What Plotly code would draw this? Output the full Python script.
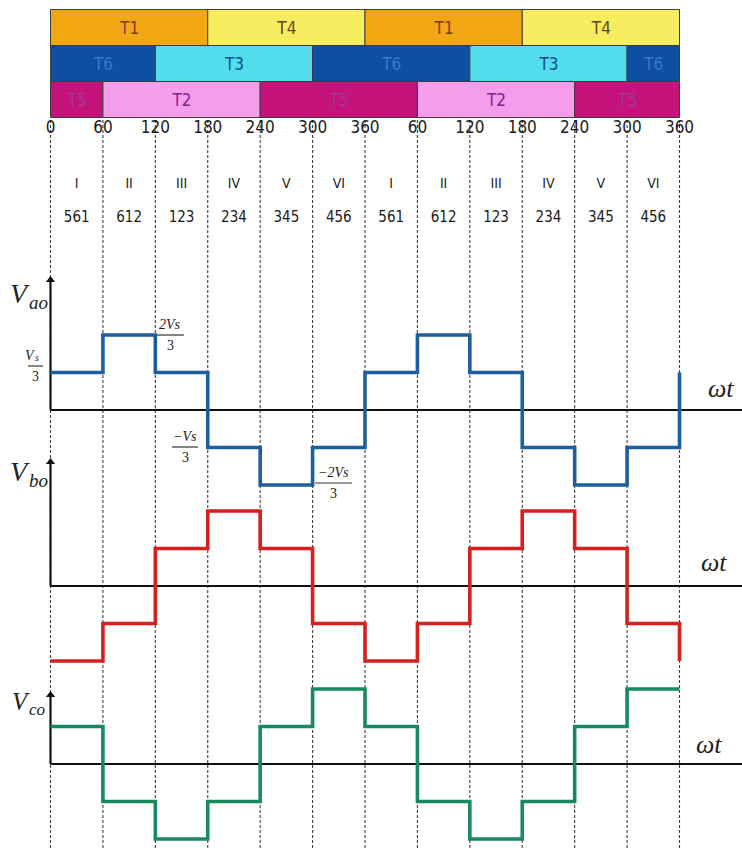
import plotly.graph_objects as go

W, H = 742, 848

# ---------------- data ----------------
angles = [0, 60, 120, 180, 240, 300, 360, 420, 480, 540, 600, 660, 720]
tick_labels = ["0", "60", "120", "180", "240", "300", "360",
               "60", "120", "180", "240", "300", "360"]
mode_labels = ["I", "II", "III", "IV", "V", "VI", "I", "II", "III", "IV", "V", "VI"]
state_labels = ["561", "612", "123", "234", "345", "456",
                "561", "612", "123", "234", "345", "456"]

# phase voltages in units of Vs/3 (one value per 60 deg interval, last = end point)
vao_levels = [1, 2, 1, -1, -2, -1, 1, 2, 1, -1, -2, -1, 1]
vbo_levels = [-2, -1, 1, 2, 1, -1, -2, -1, 1, 2, 1, -1, -2]
vco_levels = [1, -1, -2, -1, 1, 2, 1, -1, -2, -1, 1, 2, 2]

# switch conduction intervals (degrees)
row1_names = ["T1", "T4", "T1", "T4"]
row1_start = [0, 180, 360, 540]
row1_end = [180, 360, 540, 720]
row2_names = ["T6", "T3", "T6", "T3", "T6"]
row2_start = [0, 120, 300, 480, 660]
row2_end = [120, 300, 480, 660, 720]
row3_names = ["T5", "T2", "T5", "T2", "T5"]
row3_start = [0, 60, 240, 420, 600]
row3_end = [60, 240, 420, 600, 720]

# ---------------- styles ----------------
fill = {"T1": "#F3A614", "T4": "#F8EC60", "T6": "#0D4FA3",
        "T3": "#52DCEC", "T5": "#C6137C", "T2": "#F49DEA"}
txtc = {"T1": "#7A3F0C", "T4": "#5C4A14", "T6": "#3C78C6",
        "T3": "#0B4D8C", "T5": "#A2368F", "T2": "#86228F"}
BLUE, RED, GREEN = "#1E5E9F", "#D5201E", "#178A5E"
NARROW = "Liberation Sans Narrow, Arial Narrow, DejaVu Sans Condensed, sans-serif"
SERIF = "Liberation Serif, Times New Roman, serif"

# ---------------- pixel geometry helpers (layout only) ----------------
x0_px, x720_px = 50.5, 679.5
sx = (x720_px - x0_px) / 720.0
x_range = [-x0_px / sx, 720 + (W - x720_px) / sx]

def deg(px):
    return (px - x0_px) / sx

# top rows axis: unit = 36 px, row 0 centred at 27.5 px (reversed)
ROW_U, ROW0 = 36.0, 27.5
row_range = [(H - ROW0) / ROW_U, -ROW0 / ROW_U]

def rowv(py):
    return (py - ROW0) / ROW_U

# waveform axes: 37.5 px per Vs/3
U = 37.5
zero_px = {"y2": 410, "y3": 586, "y4": 764}

def wrange(z):
    return [-(H - z) / U, z / U]

def wv(ax, py):
    return (zero_px[ax] - py) / U

fig = go.Figure()

# ---- conduction bars ----
ys, bases, lens, cols, texts, tcols = [], [], [], [], [], []
for r, (names, st, en) in enumerate([(row1_names, row1_start, row1_end),
                                     (row2_names, row2_start, row2_end),
                                     (row3_names, row3_start, row3_end)]):
    for n, s, e in zip(names, st, en):
        ys.append(r)
        bases.append(s)
        lens.append(e - s)
        cols.append(fill[n])
        texts.append(n)
        tcols.append(txtc[n])

fig.add_trace(go.Bar(
    y=ys, x=lens, base=bases, orientation="h", width=1,
    marker=dict(color=cols, line=dict(color="#3c3c3c", width=1)),
    text=texts, textposition="inside", insidetextanchor="middle", textangle=0,
    textfont=dict(color=tcols, size=17, family=NARROW),
    constraintext="none", hoverinfo="skip", showlegend=False, yaxis="y"))

# ---- tick labels / modes / states ----
fig.add_trace(go.Scatter(x=angles, y=[rowv(129)] * len(angles), text=tick_labels,
                         mode="text", textfont=dict(size=17, family=NARROW, color="#1a1a1a"),
                         hoverinfo="skip", showlegend=False, yaxis="y"))
mids = [a + 30 for a in angles[:-1]]
fig.add_trace(go.Scatter(x=mids, y=[rowv(184)] * len(mids), text=mode_labels,
                         mode="text", textfont=dict(size=14, family=NARROW, color="#1a1a1a"),
                         hoverinfo="skip", showlegend=False, yaxis="y"))
fig.add_trace(go.Scatter(x=mids, y=[rowv(218)] * len(mids), text=state_labels,
                         mode="text", textfont=dict(size=15, family=NARROW, color="#1a1a1a"),
                         hoverinfo="skip", showlegend=False, yaxis="y"))

# ---- vertical axes with arrow heads ----
for ax, top_px in [("y2", 280), ("y3", 462), ("y4", 695)]:
    fig.add_trace(go.Scatter(x=[0, 0], y=[0, wv(ax, top_px)], mode="lines",
                             line=dict(color="#111", width=2.2), hoverinfo="skip",
                             showlegend=False, yaxis=ax))
    fig.add_trace(go.Scatter(x=[0], y=[wv(ax, top_px)], mode="markers",
                             marker=dict(symbol="triangle-up", size=8, color="#111"),
                             hoverinfo="skip", showlegend=False, yaxis=ax))

# ---- waveforms ----
for lv, col, ax in [(vao_levels, BLUE, "y2"), (vbo_levels, RED, "y3"), (vco_levels, GREEN, "y4")]:
    fig.add_trace(go.Scatter(x=angles, y=lv, mode="lines", line_shape="hv",
                             line=dict(color=col, width=3.6), hoverinfo="skip",
                             showlegend=False, yaxis=ax))

shapes = []
# dashed guide lines
for a in angles:
    shapes.append(dict(type="line", xref="x", yref="paper", x0=a, x1=a,
                       y0=0, y1=1 - 118 / H, layer="below",
                       line=dict(color="#3f3f3f", width=1.1, dash="3px,2px")))
# zero lines
for ax in ["y2", "y3", "y4"]:
    shapes.append(dict(type="line", xref="x", yref=ax, x0=0, x1=x_range[1],
                       y0=0, y1=0, layer="below", line=dict(color="#111", width=2)))

annotations = []

def label(text, x_px, y_px, ax, size, xanchor="center", yanchor="middle"):
    annotations.append(dict(x=deg(x_px), y=wv(ax, y_px), xref="x", yref=ax,
                            xanchor=xanchor, yanchor=yanchor, showarrow=False,
                            borderpad=0,
                            text=text, font=dict(family=SERIF, size=size, color="#222")))

# axis labels: V with separate italic subscript
for ax, name, cy, size in [("y2", "ao", 293, 28), ("y3", "bo", 471, 28), ("y4", "co", 701, 25)]:
    label("<i>V</i>", 31, cy, ax, size, xanchor="right")
    label("<i>%s</i>" % name, 28, cy + size * 0.33, ax, round(size * 0.68), xanchor="left")

# omega t labels
for ax, cx, cy in [("y2", 721, 388), ("y3", 714, 562), ("y4", 709, 744)]:
    label("<i>ωt</i>", cx, cy, ax, 26)

# fraction labels on V_ao: (numerator, centre x px, bar y px, bar x0 px, bar x1 px)
fracs = [(None, 35, 366, 28, 43),
         ("<i>2Vs</i>", 170, 335, 157, 184),
         ("<i>−Vs</i>", 185, 447, 172, 198),
         ("<i>−2Vs</i>", 333, 483, 315, 352)]
for num, cx, by, bx0, bx1 in fracs:
    shapes.append(dict(type="line", xref="x", yref="y2", x0=deg(bx0), x1=deg(bx1),
                       y0=wv("y2", by), y1=wv("y2", by),
                       line=dict(color="#333", width=1.2)))
    if num is None:
        label("<i>V</i>", cx + 1, by - 2, "y2", 14, xanchor="right", yanchor="bottom")
        label("<i>s</i>", cx - 1, by - 2, "y2", 10, xanchor="left", yanchor="bottom")
    else:
        label(num, cx, by - 2, "y2", 14, yanchor="bottom")
    label("3", cx, by + 2, "y2", 14, yanchor="top")

fig.update_layout(
    width=W, height=H, autosize=False,
    margin=dict(l=0, r=0, t=0, b=0, pad=0),
    paper_bgcolor="white", plot_bgcolor="white",
    barmode="overlay", showlegend=False,
    xaxis=dict(range=x_range, visible=False, fixedrange=True),
    yaxis=dict(range=row_range, visible=False, fixedrange=True),
    yaxis2=dict(range=wrange(zero_px["y2"]), visible=False, overlaying="y", fixedrange=True),
    yaxis3=dict(range=wrange(zero_px["y3"]), visible=False, overlaying="y", fixedrange=True),
    yaxis4=dict(range=wrange(zero_px["y4"]), visible=False, overlaying="y", fixedrange=True),
    shapes=shapes, annotations=annotations,
)

fig.write_html("out.html", config={"displayModeBar": False},
               post_script="document.body.style.margin='0';")
